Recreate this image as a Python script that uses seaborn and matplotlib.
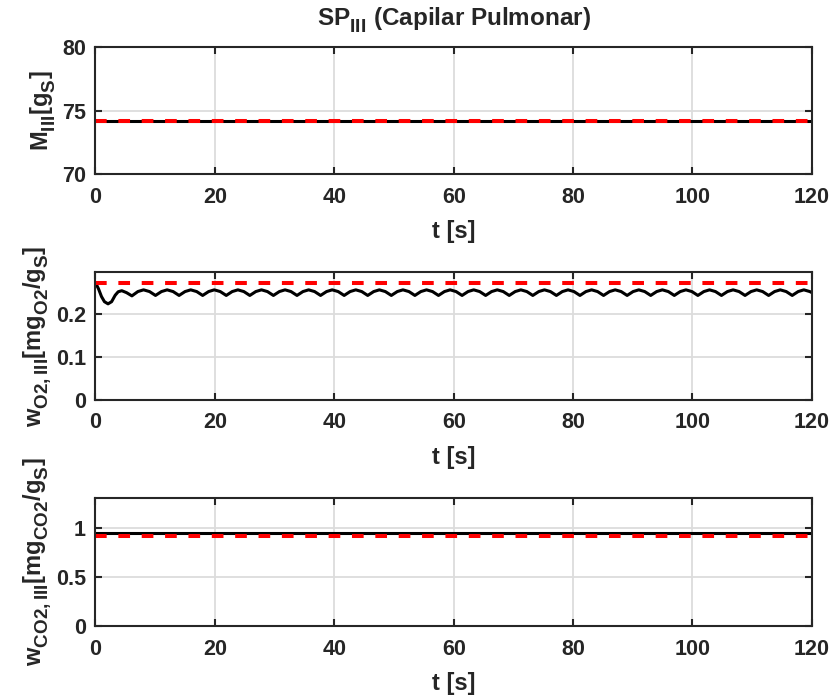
import matplotlib
matplotlib.use("Agg")
import matplotlib.pyplot as plt
import seaborn as sns

# MATLAB-like subscripts: a bit larger and dropped lower than mathtext default
try:
    import matplotlib._mathtext as _mt
    _mt.SHRINK_FACTOR = 0.8
    _mt.FontConstantsBase.sub1 = 0.55
    _mt.FontConstantsBase.sub2 = 0.6
except Exception:
    pass

# time axis and traces of SP III (Capilar Pulmonar)
t_const = [0, 120]
m_model = [74.2, 74.2]
m_ref = [74.2, 74.2]

t_o2 = [0, 0.5, 1.0, 1.5, 2.1, 2.7, 3.3, 3.8, 4.4, 5.2, 6.1,
        7.1, 8.05, 9.05, 10.05, 11.05, 12.0, 13.0, 14.0,
        15.0, 15.95, 16.95, 17.95, 18.95, 19.9, 20.9, 21.9,
        22.9, 23.85, 24.85, 25.85, 26.85, 27.8, 28.8, 29.8,
        30.8, 31.75, 32.75, 33.75, 34.75, 35.7, 36.7, 37.7,
        38.7, 39.65, 40.65, 41.65, 42.65, 43.6, 44.6, 45.6,
        46.6, 47.55, 48.55, 49.55, 50.55, 51.5, 52.5, 53.5,
        54.5, 55.45, 56.45, 57.45, 58.45, 59.4, 60.4, 61.4,
        62.4, 63.35, 64.35, 65.35, 66.35, 67.3, 68.3, 69.3,
        70.3, 71.25, 72.25, 73.25, 74.25, 75.2, 76.2, 77.2,
        78.2, 79.15, 80.15, 81.15, 82.15, 83.1, 84.1, 85.1,
        86.1, 87.05, 88.05, 89.05, 90.05, 91.0, 92.0, 93.0,
        94.0, 94.95, 95.95, 96.95, 97.95, 98.9, 99.9, 100.9,
        101.9, 102.85, 103.85, 104.85, 105.85, 106.8, 107.8, 108.8,
        109.8, 110.75, 111.75, 112.75, 113.75, 114.7, 115.7, 116.7,
        117.7, 118.65, 119.65, 120]
w_o2 = [0.272, 0.258, 0.240, 0.228, 0.223, 0.228, 0.243, 0.251, 0.2535, 0.249, 0.2415,
        0.2515, 0.2555, 0.2515, 0.2425, 0.2515, 0.2555, 0.2515, 0.2425,
        0.2515, 0.2555, 0.2515, 0.2425, 0.2515, 0.2555, 0.2515, 0.2425,
        0.2515, 0.2555, 0.2515, 0.2425, 0.2515, 0.2555, 0.2515, 0.2425,
        0.2515, 0.2555, 0.2515, 0.2425, 0.2515, 0.2555, 0.2515, 0.2425,
        0.2515, 0.2555, 0.2515, 0.2425, 0.2515, 0.2555, 0.2515, 0.2425,
        0.2515, 0.2555, 0.2515, 0.2425, 0.2515, 0.2555, 0.2515, 0.2425,
        0.2515, 0.2555, 0.2515, 0.2425, 0.2515, 0.2555, 0.2515, 0.2425,
        0.2515, 0.2555, 0.2515, 0.2425, 0.2515, 0.2555, 0.2515, 0.2425,
        0.2515, 0.2555, 0.2515, 0.2425, 0.2515, 0.2555, 0.2515, 0.2425,
        0.2515, 0.2555, 0.2515, 0.2425, 0.2515, 0.2555, 0.2515, 0.2425,
        0.2515, 0.2555, 0.2515, 0.2425, 0.2515, 0.2555, 0.2515, 0.2425,
        0.2515, 0.2555, 0.2515, 0.2425, 0.2515, 0.2555, 0.2515, 0.2425,
        0.2515, 0.2555, 0.2515, 0.2425, 0.2515, 0.2555, 0.2515, 0.2425,
        0.2515, 0.2555, 0.2515, 0.2425, 0.2515, 0.2555, 0.2515, 0.2425,
        0.2515, 0.2555, 0.2515, 0.249]
w_o2_ref = [0.2705, 0.2705]

w_co2 = [0.94, 0.94]
w_co2_ref = [0.915, 0.915]

x_ticks = [0, 20, 40, 60, 80, 100, 120]

sns.set_theme(style="ticks")
plt.rcParams["font.family"] = ["Liberation Sans", "DejaVu Sans"]
plt.rcParams["font.weight"] = "bold"
plt.rcParams["mathtext.fontset"] = "custom"
plt.rcParams["mathtext.rm"] = "Liberation Sans:bold"
plt.rcParams["mathtext.it"] = "Liberation Sans:bold"
plt.rcParams["mathtext.bf"] = "Liberation Sans:bold"
plt.rcParams["text.color"] = "#262626"

dark = "#262626"
fig = plt.figure(figsize=(8.34, 7.0), dpi=100)

panels = [
    dict(pos=[0.1145, 0.7514, 0.859, 0.1814], y=m_model, yref=m_ref, t=t_const,
         ylim=(70, 80), yticks=[70, 75, 80], ylabels=["70", "75", "80"],
         label=r"$\mathrm{M_{III}[g_S]}$", lx=-0.052),
    dict(pos=[0.1145, 0.4286, 0.859, 0.1829], y=w_o2, yref=w_o2_ref, t=t_o2,
         ylim=(0, 0.297), yticks=[0, 0.1, 0.2], ylabels=["0", "0.1", "0.2"],
         label=r"$\mathrm{w_{O2,III}[mg_{O2}/g_S]}$", lx=-0.06),
    dict(pos=[0.1145, 0.1057, 0.859, 0.1829], y=w_co2, yref=w_co2_ref, t=t_const,
         ylim=(0, 1.3), yticks=[0, 0.5, 1], ylabels=["0", "0.5", "1"],
         label=r"$\mathrm{w_{CO2,III}[mg_{CO2}/g_S]}$", lx=-0.06),
]

for i, p in enumerate(panels):
    ax = fig.add_axes(p["pos"])
    sns.lineplot(x=p["t"], y=p["y"], ax=ax, color="black", linewidth=2.2)
    sns.lineplot(x=t_const, y=p["yref"], ax=ax, color="red", linewidth=2.9,
                 linestyle=(0, (2.9, 2.9)))
    ax.set_xlim(0, 120)
    ax.set_ylim(*p["ylim"])
    ax.set_xticks(x_ticks)
    ax.set_xticklabels([str(v) for v in x_ticks])
    ax.set_yticks(p["yticks"])
    ax.set_yticklabels(p["ylabels"])
    ax.grid(True, color="#dcdcdc", linewidth=1.3)
    ax.set_axisbelow(True)
    for s in ax.spines.values():
        s.set_visible(True)
        s.set_color(dark)
        s.set_linewidth(1.5)
    ax.tick_params(direction="in", length=5, width=1.5, colors=dark,
                   labelsize=15.5, top=True, right=True)
    ax.tick_params(axis="x", pad=9)
    ax.tick_params(axis="y", pad=7)
    for lab in ax.get_xticklabels() + ax.get_yticklabels():
        lab.set_fontweight("bold")
    ax.set_xlabel("t [s]", fontsize=17, fontweight="bold", color=dark, labelpad=9)
    ax.set_ylabel(p["label"], fontsize=17, color=dark)
    ax.yaxis.set_label_coords(p["lx"], 0.5)
    if i == 0:
        ax.set_title(r"$\mathrm{SP_{III}}$ (Capilar Pulmonar)", fontsize=17.5,
                     fontweight="bold", color=dark, pad=15)

fig.savefig("out.png", dpi=100)
